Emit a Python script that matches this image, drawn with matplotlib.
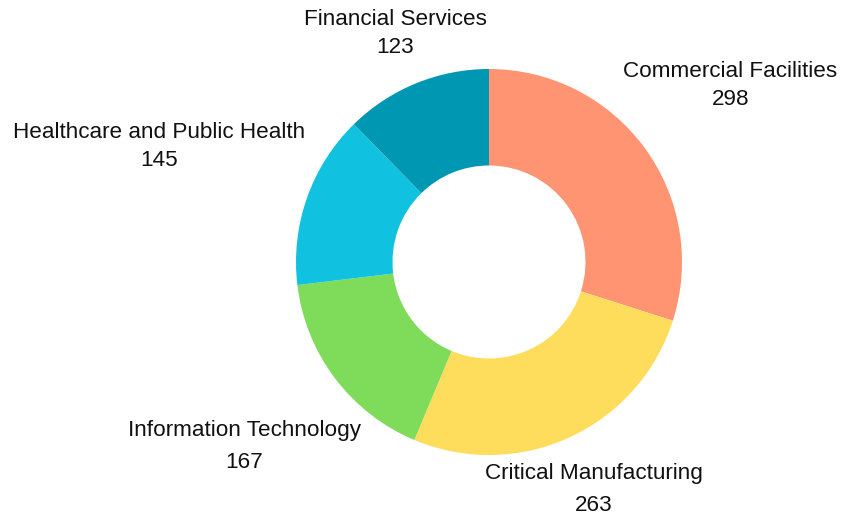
import numpy as np
import matplotlib
matplotlib.use("Agg")
import matplotlib.pyplot as plt

plt.rcParams['font.family'] = ['Liberation Sans', 'DejaVu Sans']

categories = ["Commercial Facilities", "Critical Manufacturing", "Information Technology",
              "Healthcare and Public Health", "Financial Services"]
values = [298, 263, 167, 145, 123]
colors = ["#FF9473", "#FFDD5C", "#7FDB5A", "#10C2E0", "#0097B2"]

# per-label distance from centre (in outer-radius units) and line spacing
label_dist = [1.55, 1.30, 1.59, 1.81, 1.28]
label_spacing = [1.47, 1.69, 1.69, 1.47, 1.47]

W, H = 841, 517
fig = plt.figure(figsize=(W / 100, H / 100), dpi=100)
ax = fig.add_axes([0, 0, 1, 1])

cx, cy, R = 489, 262, 193

wedges, _ = ax.pie(values, colors=colors, startangle=90, counterclock=False,
                   radius=1.0, wedgeprops=dict(width=0.5, linewidth=0),
                   center=(0, 0))
ax.set_xlim(-cx / R, (W - cx) / R)
ax.set_ylim(-(H - cy) / R, cy / R)
ax.set_aspect('equal')
ax.axis('off')

total = sum(values)
cum = 0
for name, v, d, ls in zip(categories, values, label_dist, label_spacing):
    mid = 90 - (cum + v / 2) / total * 360
    cum += v
    a = np.deg2rad(mid)
    ax.text(d * np.cos(a), d * np.sin(a), f"{name}\n{v}", ha='center', va='center',
            fontsize=16.2, color='#111111', linespacing=ls, multialignment='center')

fig.savefig("out.png", dpi=100)
